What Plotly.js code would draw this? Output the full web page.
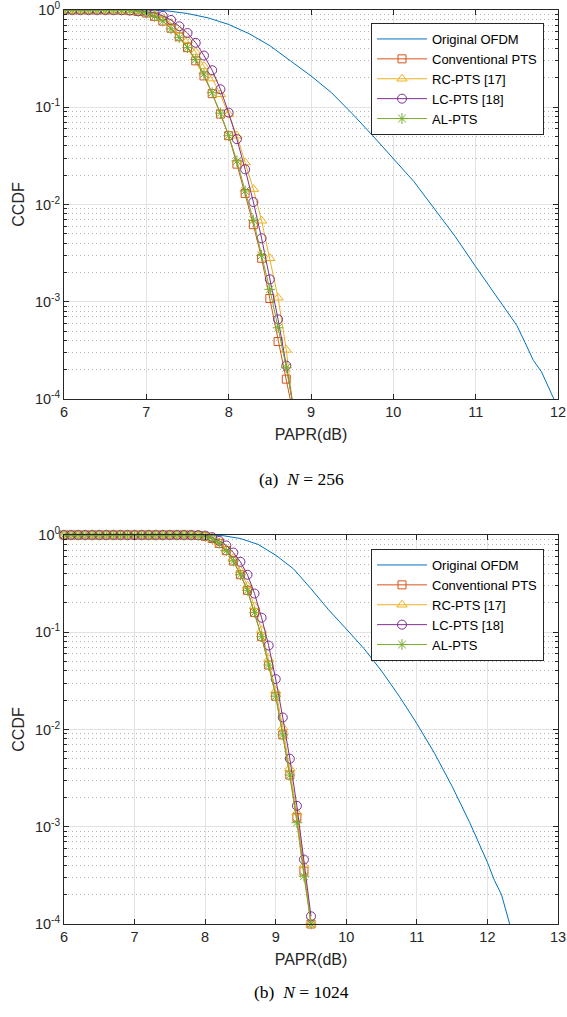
<!DOCTYPE html>
<html>
<head>
<meta charset="utf-8">
<script src="https://cdn.plot.ly/plotly-3.0.1.min.js"></script>
<style>html,body{margin:0;padding:0;background:#fff;}#chart{width:567px;height:1017px;}</style>
</head>
<body>
<div id="chart"></div>
<script>
// ---------- N = 256 ----------
const papr256 = [6.0,6.1,6.2,6.3,6.4,6.5,6.6,6.7,6.8,6.9,7.0,7.1,7.2,7.3,7.4,7.5,7.6,7.7,7.8,7.9,8.0,8.1,8.2,8.3,8.4,8.5,8.6,8.7,8.8];
const conv256 = [1,1,1,1,1,1,0.998,0.995,0.985,0.965,0.93,0.86,0.77,0.65,0.53,0.41,0.30,0.21,0.138,0.085,0.051,0.026,0.013,0.0062,0.0028,0.00108,0.00039,0.00016,0.00006];
const rc256   = [1,1,1,1,1,1,0.999,0.996,0.99,0.975,0.95,0.90,0.83,0.73,0.61,0.49,0.37,0.265,0.197,0.136,0.085,0.051,0.027,0.0144,0.0068,0.0028,0.0011,0.00032,0.00006];
const lc256   = [1,1,1,1,1,1,0.999,0.997,0.99,0.98,0.96,0.93,0.87,0.79,0.68,0.58,0.46,0.34,0.24,0.153,0.088,0.047,0.023,0.0106,0.0045,0.0017,0.00066,0.00022,0.00007];
const al256   = [1,1,1,1,1,1,0.998,0.995,0.985,0.965,0.93,0.86,0.77,0.64,0.52,0.41,0.31,0.22,0.141,0.087,0.051,0.028,0.0138,0.0069,0.0030,0.00134,0.00054,0.00021,0.00007];
const paprOrig256 = [6.0,6.5,7.0,7.25,7.5,7.75,8.0,8.25,8.5,8.75,9.0,9.25,9.5,9.75,10.0,10.25,10.5,10.75,11.0,11.25,11.4,11.5,11.6,11.7,11.8,11.9,11.95,12.05];
const orig256 = [1,1,0.995,0.98,0.92,0.83,0.71,0.57,0.43,0.30,0.21,0.141,0.086,0.051,0.030,0.0172,0.0090,0.0047,0.0023,0.00115,0.00075,0.00057,0.00038,0.00025,0.00019,0.000125,0.0001,0.00007];

// ---------- N = 1024 ----------
const papr1024 = [6.0,6.1,6.2,6.3,6.4,6.5,6.6,6.7,6.8,6.9,7.0,7.1,7.2,7.3,7.4,7.5,7.6,7.7,7.8,7.9,8.0,8.1,8.2,8.3,8.4,8.5,8.6,8.7,8.8,8.9,9.0,9.1,9.2,9.3,9.4,9.5];
const conv1024 = [1,1,1,1,1,1,1,1,1,1,1,1,1,1,1,1,1,1,0.997,0.99,0.97,0.92,0.82,0.69,0.54,0.39,0.27,0.16,0.090,0.046,0.022,0.0088,0.0034,0.00125,0.00035,0.0001];
const rc1024   = [1,1,1,1,1,1,1,1,1,1,1,1,1,1,1,1,1,1,0.997,0.99,0.975,0.93,0.84,0.72,0.58,0.43,0.30,0.185,0.105,0.053,0.025,0.0105,0.0040,0.0014,0.00040,0.0001];
const lc1024   = [1,1,1,1,1,1,1,1,1,1,1,1,1,1,1,1,1,1,1,0.998,0.985,0.95,0.87,0.78,0.66,0.53,0.39,0.25,0.141,0.073,0.033,0.0133,0.0050,0.00164,0.00046,0.00012];
const al1024   = [1,1,1,1,1,1,1,1,1,1,1,1,1,1,1,1,1,1,0.997,0.99,0.97,0.92,0.82,0.69,0.54,0.39,0.27,0.16,0.090,0.046,0.022,0.0088,0.0034,0.0011,0.00031,0.0001];
const paprOrig1024 = [6.0,7.0,8.0,8.25,8.5,8.75,9.0,9.25,9.5,9.75,10.0,10.25,10.5,10.75,11.0,11.25,11.5,11.75,12.0,12.1,12.2,12.25,12.32,12.4];
const orig1024 = [1,1,0.999,0.985,0.92,0.80,0.62,0.45,0.28,0.17,0.108,0.068,0.040,0.022,0.0115,0.0057,0.0026,0.0011,0.00043,0.00028,0.0002,0.00015,0.0001,0.00006];

const names = ['Original OFDM','Conventional PTS','RC-PTS [17]','LC-PTS [18]','AL-PTS'];
const colors = ['#0072BD','#D95319','#EDB120','#7E2F8E','#77AC30'];
const symbols = [null,'square-open','triangle-up-open','circle-open','asterisk-open'];
const msizes = [0,8,9,9,9];
const yTickVals = [1e-4,1e-3,1e-2,1e-1,1];
const yTickText = ['10<sup>-4</sup>','10<sup>-3</sup>','10<sup>-2</sup>','10<sup>-1</sup>','10<sup>0</sup>'];

const FONT = 'Liberation Sans, Arial, Helvetica, sans-serif';

function makeTraces(xo, yo, x, ys, xa, ya, leg, clip) {
  const tr = [{
    x: xo, y: yo, xaxis: xa, yaxis: ya, legend: leg, name: names[0],
    mode: 'lines', line: {color: colors[0], width: 1}, cliponaxis: clip
  }];
  for (let i = 0; i < 4; i++) {
    tr.push({
      x: x, y: ys[i], xaxis: xa, yaxis: ya, legend: leg, name: names[i+1],
      mode: 'lines+markers', cliponaxis: clip,
      line: {color: colors[i+1], width: 1},
      marker: {symbol: symbols[i+1], size: msizes[i+1], color: colors[i+1], line: {color: colors[i+1], width: 1}}
    });
  }
  return tr;
}

const data = [].concat(
  makeTraces(paprOrig256, orig256, papr256, [conv256, rc256, lc256, al256], 'x', 'y', 'legend', true),
  makeTraces(paprOrig1024, orig1024, papr1024, [conv1024, rc1024, lc1024, al1024], 'x2', 'y2', 'legend2', false)
);

const W = 567, H = 1017;
function xAxis(range, anchor, ticks) {
  return {
    domain: [64/W, 558/W], anchor: anchor, range: range, tickvals: ticks,
    showline: true, mirror: 'ticks', linecolor: '#262626', linewidth: 1,
    ticks: 'inside', ticklen: 5, tickcolor: '#262626', tickwidth: 1,
    showgrid: true, gridcolor: '#e3e3e3', gridwidth: 1, zeroline: false,
    ticklabeloverflow: 'allow',
    tickfont: {family: FONT, size: 14.5, color: '#262626'},
    title: {text: 'PAPR(dB)', font: {family: FONT, size: 16, color: '#262626'}, standoff: 9}
  };
}
function yAxis(dom, anchor) {
  return {
    domain: dom, anchor: anchor, type: 'log', range: [-4, 0],
    tickvals: yTickVals, ticktext: yTickText,
    showline: true, mirror: 'ticks', linecolor: '#262626', linewidth: 1,
    ticks: 'inside', ticklen: 5, tickcolor: '#262626', tickwidth: 1,
    showgrid: true, gridcolor: '#e3e3e3', gridwidth: 1, zeroline: false,
    ticklabeloverflow: 'allow',
    minor: {dtick: 'D1', showgrid: true, gridcolor: '#b5b5b5', griddash: '1px,3px', gridwidth: 1, ticks: 'inside', ticklen: 3, tickcolor: '#262626'},
    tickfont: {family: FONT, size: 14.5, color: '#262626'},
    title: {text: 'CCDF', font: {family: FONT, size: 16, color: '#262626'}, standoff: 6}
  };
}
function legendBox(ytop) {
  return {
    x: 544/W, xanchor: 'right', y: 1 - ytop/H, yanchor: 'top',
    bgcolor: '#ffffff', bordercolor: '#262626', borderwidth: 1,
    font: {family: FONT, size: 13, color: '#000'}, tracegroupgap: 0,
    itemwidth: 50
  };
}

const layout = {
  width: W, height: H, margin: {l: 0, r: 0, t: 0, b: 0},
  paper_bgcolor: '#fff', plot_bgcolor: '#fff', showlegend: true,
  font: {family: FONT},
  xaxis: xAxis([6, 12], 'y', [6,7,8,9,10,11,12]),
  yaxis: yAxis([1 - 399/H, 1 - 10/H], 'x'),
  xaxis2: xAxis([6, 13], 'y2', [6,7,8,9,10,11,12,13]),
  yaxis2: yAxis([1 - 924/H, 1 - 535/H], 'x2'),
  legend: legendBox(23),
  legend2: legendBox(549),
  annotations: [
    {xref: 'paper', yref: 'paper', x: 301/W, y: 1 - 479/H, xanchor: 'center', yanchor: 'middle', showarrow: false,
     text: '(a)&nbsp;&nbsp;<i>N</i> = 256', font: {family: 'Liberation Serif, Times New Roman, serif', size: 17.5, color: '#000'}},
    {xref: 'paper', yref: 'paper', x: 301/W, y: 1 - 992/H, xanchor: 'center', yanchor: 'middle', showarrow: false,
     text: '(b)&nbsp;&nbsp;<i>N</i> = 1024', font: {family: 'Liberation Serif, Times New Roman, serif', size: 17.5, color: '#000'}}
  ]
};

Plotly.newPlot('chart', data, layout, {staticPlot: true, displayModeBar: false});
</script>
</body>
</html>
